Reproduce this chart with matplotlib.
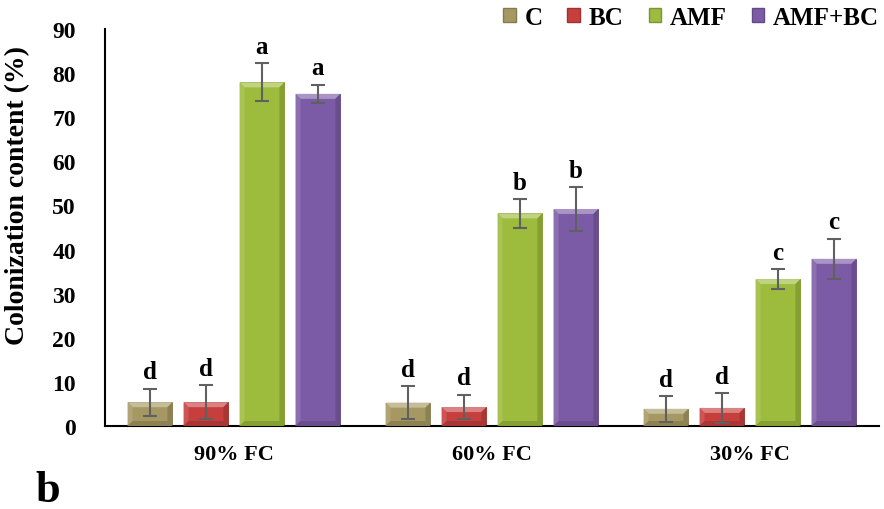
import matplotlib
matplotlib.use("Agg")
import matplotlib.pyplot as plt
import numpy as np
from matplotlib.patches import Polygon, Patch
import matplotlib.colors as mcolors

categories = ["90% FC", "60% FC", "30% FC"]
treatments = ["C", "BC", "AMF", "AMF+BC"]
values = {
    "C":      [5.4, 5.3, 3.9],
    "BC":     [5.4, 4.3, 4.1],
    "AMF":    [77.9, 48.2, 33.3],
    "AMF+BC": [75.3, 49.2, 37.9],
}
errors = {
    "C":      [3.1, 3.7, 2.9],
    "BC":     [3.9, 2.8, 3.4],
    "AMF":    [4.3, 3.2, 2.2],
    "AMF+BC": [2.1, 4.9, 4.6],
}
letters = {
    "C":      ["d", "d", "d"],
    "BC":     ["d", "d", "d"],
    "AMF":    ["a", "b", "c"],
    "AMF+BC": ["a", "b", "c"],
}
colors = {"C": "#a69862", "BC": "#c63f3d", "AMF": "#9dbb3c", "AMF+BC": "#7c5ba6"}

plt.rcParams['font.family'] = ['Liberation Serif', 'DejaVu Serif']
plt.rcParams['font.weight'] = 'bold'

fig = plt.figure(figsize=(8.84, 5.10), dpi=100)
ax = fig.add_axes([105/884, 83/510, 774/884, 397/510])

x = np.arange(len(categories))
width = 0.174
pitch = 0.217
offsets = (np.arange(len(treatments)) - 1.5) * pitch

ax.set_xlim(-0.5, 2.5)
ax.set_ylim(0, 90)

bars_all = []
for i, t in enumerate(treatments):
    bars = ax.bar(x + offsets[i], values[t], width, color=colors[t],
                  edgecolor=mcolors.to_hex(np.array(mcolors.to_rgb(colors[t])) * 0.8),
                  linewidth=0.6, zorder=2)
    bars_all.append((t, bars))
    ax.errorbar(x + offsets[i], values[t], yerr=errors[t], fmt='none',
                ecolor='#606060', elinewidth=1.5, capsize=5, capthick=1.5, zorder=4)
    for xi, v, e, L in zip(x + offsets[i], values[t], errors[t], letters[t]):
        ax.text(xi, v + e + 1.2, L, ha='center', va='bottom', fontsize=18,
                fontweight='bold', zorder=5, clip_on=False)

# bevel facets computed from each bar's geometry
fig.canvas.draw()
inv = ax.transData.inverted()
bev = 5.0
for t, bars in bars_all:
    base = np.array(mcolors.to_rgb(colors[t]))
    light = np.clip(base + (1 - base) * 0.35, 0, 1)
    lighter = np.clip(base + (1 - base) * 0.12, 0, 1)
    dark = base * 0.85
    for r in bars:
        x0, y0 = r.get_x(), r.get_y()
        x1, y1 = x0 + r.get_width(), y0 + r.get_height()
        (px0, py0) = ax.transData.transform((x0, y0))
        (px1, py1) = ax.transData.transform((x1, y1))
        b = min(bev, (py1 - py0) / 2)
        def d(px, py):
            return inv.transform((px, py))
        top = [d(px0, py1), d(px1, py1), d(px1 - bev, py1 - b), d(px0 + bev, py1 - b)]
        left = [d(px0, py0), d(px0, py1), d(px0 + bev, py1 - b), d(px0 + bev, py0 + b)]
        right = [d(px1, py0), d(px1, py1), d(px1 - bev, py1 - b), d(px1 - bev, py0 + b)]
        bottom = [d(px0, py0), d(px1, py0), d(px1 - bev, py0 + b), d(px0 + bev, py0 + b)]
        for poly, c in ((top, light), (left, lighter), (right, dark), (bottom, dark)):
            ax.add_patch(Polygon(poly, closed=True, facecolor=c, edgecolor='none', zorder=3))

ax.set_xticks(x)
ax.set_xticklabels(categories, fontsize=16, fontweight='bold')
ax.set_yticks(np.arange(0, 91, 10))
ax.set_yticklabels([str(v) for v in range(0, 91, 10)], fontsize=17, fontweight='bold')
ax.tick_params(axis='y', length=0, pad=21)
ax.tick_params(axis='x', length=0, pad=13)
ax.set_ylabel("Colonization content (%)", fontsize=20, fontweight='bold')
ax.yaxis.set_label_coords(-0.097, 0.584)
for s in ['top', 'right']:
    ax.spines[s].set_visible(False)
ax.spines['left'].set_linewidth(1.5)
ax.spines['bottom'].set_linewidth(1.5)

handles = [Patch(facecolor=colors[t], edgecolor=mcolors.to_hex(np.array(mcolors.to_rgb(colors[t])) * 0.8)) for t in treatments]
fig.legend(handles, treatments, loc='upper right', bbox_to_anchor=(1.02, 1.03), ncol=4,
           frameon=False, prop={'family': 'Liberation Serif', 'weight': 'bold', 'size': 18},
           handlelength=0.5, handleheight=0.5, handletextpad=0.35, columnspacing=1.0)

fig.text(35/884, 8/510, "b", fontsize=32, fontweight='bold', ha='left', va='baseline')

fig.savefig("out.png", dpi=100)
